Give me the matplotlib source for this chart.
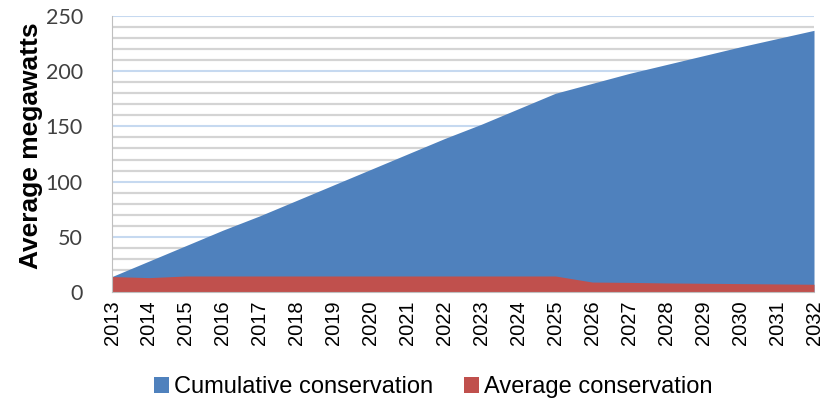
import matplotlib
matplotlib.use("Agg")
import matplotlib.pyplot as plt
from matplotlib.patches import Patch
from matplotlib.ticker import MultipleLocator

years = [2013, 2014, 2015, 2016, 2017, 2018, 2019, 2020, 2021, 2022,
         2023, 2024, 2025, 2026, 2027, 2028, 2029, 2030, 2031, 2032]
cumulative = [14, 28, 42, 56, 69, 83, 97, 111, 125, 139,
              152, 166, 180, 189, 198, 206, 214, 222, 229.5, 237]
average = [14, 13, 14.5, 14.5, 14.5, 14.5, 14.5, 14.5, 14.5, 14.5,
           14.5, 14.5, 14.5, 9, 8.7, 8.2, 7.9, 7.6, 7.3, 7]
series_names = ["Cumulative conservation", "Average conservation"]
tick_labels = [str(y) for y in years]

blue = "#4f81bd"
red = "#c0504d"

fig = plt.figure(figsize=(8.22, 4.04), dpi=100)
ax = fig.add_axes([112/822, 1-292/404, (814-112)/822, (292-16)/404])

x = list(range(len(years)))
ax.fill_between(x, 0, cumulative, color=blue, linewidth=0, zorder=3)
ax.fill_between(x, 0, average, color=red, linewidth=0, zorder=4)

ax.set_xlim(0, len(years)-1)
ax.set_ylim(0, 250)
ax.yaxis.set_major_locator(MultipleLocator(50))
ax.yaxis.set_minor_locator(MultipleLocator(10))
ax.grid(which="minor", axis="y", color="#d4d4d4", linewidth=1.6, zorder=1)
ax.grid(which="major", axis="y", color="#c6d9f0", linewidth=1.5, zorder=2)
ax.set_axisbelow(True)

ax.set_xticks(x)
ax.set_xticklabels(tick_labels, rotation=90, fontsize=14.5,
                   family="Liberation Sans", color="#000000")
ax.tick_params(axis="x", length=0, pad=6)
ax.tick_params(axis="y", which="both", length=0, pad=21, labelsize=15.5,
               labelcolor="#404040")
for lab in ax.get_yticklabels():
    lab.set_family("Lato")

for s in ["top", "right"]:
    ax.spines[s].set_visible(False)
ax.spines["left"].set_color("#bfbfbf")
ax.spines["bottom"].set_color("#bfbfbf")
ax.spines["left"].set_zorder(5)
ax.spines["bottom"].set_zorder(5)

fig.text(31/822, 1-146/404, "Average megawatts", rotation=90, ha="center",
         va="center", fontsize=19, fontweight="bold", family="Liberation Sans")

handles = [Patch(facecolor=blue, edgecolor="none"),
           Patch(facecolor=red, edgecolor="none")]
fig.legend(handles, series_names, loc="center", bbox_to_anchor=(433/822, 1-387/404),
           ncol=2, frameon=False, prop={"family": "Liberation Sans", "size": 17},
           handlelength=0.65, handleheight=0.65, handletextpad=0.2, columnspacing=1.3)

fig.savefig("out.png", dpi=100)
